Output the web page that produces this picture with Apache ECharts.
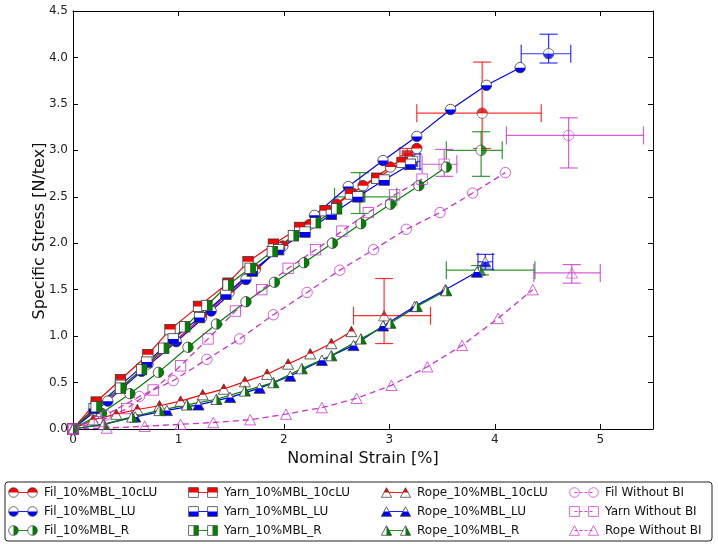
<!DOCTYPE html>
<html><head><meta charset="utf-8">
<script src="https://cdn.jsdelivr.net/npm/echarts@6/dist/echarts.min.js"></script>
<style>html,body{margin:0;padding:0;background:#fff}#c{width:718px;height:544px}</style>
</head><body><div id="c"></div>
<script>
// ---------- data ----------
// errorbar arrays: [x, y, xLow, xHigh, yLow, yHigh]
const filCLU_x = [0, 0.20, 0.46, 0.71, 0.97, 1.22, 1.48, 1.73, 1.99, 2.24, 2.50, 2.75, 3.01, 3.26];
const filCLU_y = [0, 0.20, 0.45, 0.70, 0.95, 1.20, 1.47, 1.72, 1.97, 2.20, 2.42, 2.62, 2.82, 3.02];
const filCLU_err = [3.88, 3.40, 3.26, 4.44, 3.02, 3.95];

const filLU_x = [0, 0.33, 0.65, 0.98, 1.31, 1.64, 1.96, 2.29, 2.61, 2.94, 3.26, 3.58, 3.92, 4.24];
const filLU_y = [0, 0.30, 0.62, 0.94, 1.27, 1.61, 1.95, 2.30, 2.61, 2.89, 3.15, 3.44, 3.70, 3.89];
const filLU_err = [4.51, 4.04, 4.25, 4.72, 3.94, 4.25];

const filR_x = [0, 0.27, 0.54, 0.81, 1.09, 1.36, 1.64, 1.91, 2.19, 2.46, 2.73, 3.01, 3.28, 3.54];
const filR_y = [0, 0.17, 0.38, 0.61, 0.88, 1.13, 1.37, 1.58, 1.79, 2.00, 2.21, 2.42, 2.62, 2.82];
const filR_err = [3.87, 3.00, 3.54, 4.07, 2.72, 3.20];

const yarnCLU_x = [0, 0.22, 0.45, 0.71, 0.92, 1.19, 1.47, 1.66, 1.90, 2.15, 2.39, 2.63, 2.88, 3.12];
const yarnCLU_y = [0, 0.29, 0.53, 0.80, 1.07, 1.32, 1.57, 1.80, 1.99, 2.17, 2.35, 2.53, 2.70, 2.87];
const yarnCLU_err = [3.17, 2.94, 3.10, 3.24, 2.86, 3.02];

const yarnLU_x = [0, 0.20, 0.45, 0.70, 0.95, 1.20, 1.45, 1.70, 1.95, 2.20, 2.45, 2.70, 2.95, 3.20];
const yarnLU_y = [0, 0.22, 0.47, 0.72, 0.97, 1.20, 1.45, 1.70, 1.93, 2.12, 2.31, 2.50, 2.68, 2.85];
const yarnLU_err = [3.22, 2.88, 3.15, 3.29, 2.80, 2.96];

const yarnR_x = [0, 0.22, 0.45, 0.65, 0.86, 1.06, 1.27, 1.47, 1.68, 1.89, 2.09, 2.30, 2.50];
const yarnR_y = [0, 0.24, 0.44, 0.64, 0.87, 1.10, 1.33, 1.55, 1.73, 1.91, 2.08, 2.22, 2.37];
const yarnR_err = [2.72, 2.50, 2.48, 3.07, 2.32, 2.76];

const ropeCLU_x = [0, 0.19, 0.41, 0.61, 0.82, 1.02, 1.23, 1.43, 1.63, 1.84, 2.04, 2.25, 2.45, 2.64];
const ropeCLU_y = [0, 0.10, 0.16, 0.21, 0.25, 0.30, 0.37, 0.43, 0.51, 0.59, 0.70, 0.81, 0.92, 1.05];
const ropeCLU_err = [2.95, 1.22, 2.66, 3.39, 0.92, 1.62];

const ropeLU_x = [0, 0.29, 0.59, 0.89, 1.19, 1.49, 1.77, 2.06, 2.36, 2.66, 2.94, 3.24, 3.53, 3.83];
const ropeLU_y = [0, 0.05, 0.13, 0.20, 0.26, 0.34, 0.44, 0.57, 0.74, 0.90, 1.11, 1.32, 1.50, 1.69];
const ropeLU_err = [3.91, 1.80, 3.84, 3.98, 1.72, 1.88];

const ropeR_x = [0, 0.29, 0.56, 0.82, 1.08, 1.36, 1.63, 1.90, 2.17, 2.45, 2.73, 3.01, 3.26, 3.54];
const ropeR_y = [0, 0.05, 0.13, 0.20, 0.26, 0.32, 0.41, 0.50, 0.65, 0.79, 0.97, 1.14, 1.32, 1.49];
const ropeR_err = [3.86, 1.71, 3.54, 4.38, 1.66, 1.76];

const filNo_x = [0, 0.31, 0.63, 0.95, 1.27, 1.58, 1.90, 2.22, 2.53, 2.85, 3.16, 3.48, 3.79, 4.10];
const filNo_y = [0, 0.15, 0.35, 0.52, 0.75, 0.97, 1.23, 1.47, 1.71, 1.93, 2.15, 2.33, 2.54, 2.76];
const filNo_err = [4.70, 3.16, 4.11, 5.41, 2.81, 3.35];

const yarnNo_x = [0, 0.25, 0.51, 0.76, 1.02, 1.28, 1.54, 1.79, 2.04, 2.30, 2.55, 2.80, 3.05, 3.31];
const yarnNo_y = [0, 0.08, 0.22, 0.42, 0.68, 0.97, 1.27, 1.50, 1.73, 1.93, 2.13, 2.33, 2.52, 2.69];
const yarnNo_err = [3.52, 2.85, 3.31, 3.64, 2.72, 3.01];

const ropeNo_x = [0, 0.32, 0.68, 1.02, 1.33, 1.68, 2.02, 2.36, 2.69, 3.02, 3.36, 3.69, 4.03, 4.36];
const ropeNo_y = [0, 0.01, 0.03, 0.05, 0.07, 0.10, 0.16, 0.23, 0.33, 0.47, 0.67, 0.90, 1.19, 1.50];
const ropeNo_err = [4.73, 1.68, 4.37, 5.00, 1.57, 1.77];

const xTicks = [0, 1, 2, 3, 4, 5];
const yTicks = [0, 0.5, 1, 1.5, 2, 2.5, 3, 3.5, 4, 4.5];

// ---------- styling ----------
const RED = '#ff0000', BLUE = '#0000ff', GREEN = '#008000', MAG = '#cc33cc', EDGE = '#333333';

function shapeEl(shape, attrs) {
  if (shape === 'circle') return `<circle cx='10' cy='10' r='8' ${attrs}/>`;
  if (shape === 'square') return `<rect x='2' y='2' width='16' height='16' ${attrs}/>`;
  return `<polygon points='10,2 18.5,18 1.5,18' ${attrs}/>`;
}
function markerBody(shape, fill, color, id) {
  if (fill === 'none') return shapeEl(shape, `fill='none' stroke='${color}' stroke-width='1.2'`);
  const c = {top: [0, 0, 20, 10], bottom: [0, 10, 20, 10], right: [10, 0, 10, 20]}[fill];
  return `<defs><clipPath id='${id}'><rect x='${c[0]}' y='${c[1]}' width='${c[2]}' height='${c[3]}'/></clipPath></defs>` +
    shapeEl(shape, "fill='white'") +
    shapeEl(shape, `fill='${color}' clip-path='url(#${id})'`) +
    shapeEl(shape, `fill='none' stroke='${EDGE}' stroke-width='1.2'`);
}
function uri(svg) { return 'image://data:image/svg+xml;charset=utf-8,' + encodeURIComponent(svg); }
function markerImg(shape, fill, color) {
  return uri(`<svg xmlns='http://www.w3.org/2000/svg' width='40' height='40' viewBox='0 0 20 20'>${markerBody(shape, fill, color, 'k')}</svg>`);
}
function legendImg(shape, fill, color, dashed) {
  const line = `<line x1='6.5' y1='6.5' x2='25.5' y2='6.5' stroke='${color}' stroke-width='0.9' ${dashed ? "stroke-dasharray='3,2'" : ''}/>`;
  const m1 = `<g transform='translate(0.5,0.5) scale(0.6)'>${markerBody(shape, fill, color, 'a')}</g>`;
  const m2 = `<g transform='translate(19.5,0.5) scale(0.6)'>${markerBody(shape, fill, color, 'b')}</g>`;
  return uri(`<svg xmlns='http://www.w3.org/2000/svg' width='64' height='26' viewBox='0 0 32 13'>${line}${m1}${m2}</svg>`);
}

const defs = [
  {name: 'Fil_10%MBL_10cLU', xs: filCLU_x, ys: filCLU_y, err: filCLU_err, shape: 'circle', fill: 'top', color: RED},
  {name: 'Fil_10%MBL_LU', xs: filLU_x, ys: filLU_y, err: filLU_err, shape: 'circle', fill: 'bottom', color: BLUE},
  {name: 'Fil_10%MBL_R', xs: filR_x, ys: filR_y, err: filR_err, shape: 'circle', fill: 'right', color: GREEN},
  {name: 'Yarn_10%MBL_10cLU', xs: yarnCLU_x, ys: yarnCLU_y, err: yarnCLU_err, shape: 'square', fill: 'top', color: RED},
  {name: 'Yarn_10%MBL_LU', xs: yarnLU_x, ys: yarnLU_y, err: yarnLU_err, shape: 'square', fill: 'bottom', color: BLUE},
  {name: 'Yarn_10%MBL_R', xs: yarnR_x, ys: yarnR_y, err: yarnR_err, shape: 'square', fill: 'right', color: GREEN},
  {name: 'Rope_10%MBL_10cLU', xs: ropeCLU_x, ys: ropeCLU_y, err: ropeCLU_err, shape: 'triangle', fill: 'top', color: RED},
  {name: 'Rope_10%MBL_LU', xs: ropeLU_x, ys: ropeLU_y, err: ropeLU_err, shape: 'triangle', fill: 'bottom', color: BLUE},
  {name: 'Rope_10%MBL_R', xs: ropeR_x, ys: ropeR_y, err: ropeR_err, shape: 'triangle', fill: 'right', color: GREEN},
  {name: 'Fil Without BI', xs: filNo_x, ys: filNo_y, err: filNo_err, shape: 'circle', fill: 'none', color: MAG, dashed: true},
  {name: 'Yarn Without BI', xs: yarnNo_x, ys: yarnNo_y, err: yarnNo_err, shape: 'square', fill: 'none', color: MAG, dashed: true},
  {name: 'Rope Without BI', xs: ropeNo_x, ys: ropeNo_y, err: ropeNo_err, shape: 'triangle', fill: 'none', color: MAG, dashed: true}
];

const SIZE = {circle: 13, square: 13, triangle: 13};
const series = [];
defs.forEach(d => {
  const img = markerImg(d.shape, d.fill, d.color);
  series.push({
    type: 'line', name: d.name, data: d.xs.map((x, i) => [x, d.ys[i]]),
    symbol: img, symbolSize: SIZE[d.shape], showSymbol: true,
    lineStyle: {color: d.color, width: d.dashed ? 1.3 : 1.2, type: d.dashed ? [6, 4] : 'solid'},
    itemStyle: {color: d.color}, emphasis: {disabled: true}
  });
  series.push({
    type: 'custom', name: d.name, data: [d.err],
    renderItem: (params, api) => {
      const x = api.value(0), y = api.value(1);
      const l = api.coord([api.value(2), y]), r = api.coord([api.value(3), y]);
      const b = api.coord([x, api.value(4)]), t = api.coord([x, api.value(5)]);
      const cap = 9;
      const st = {stroke: d.color, lineWidth: 1.2, opacity: 0.8};
      const ln = (x1, y1, x2, y2) => ({type: 'line', shape: {x1, y1, x2, y2}, style: st});
      return {type: 'group', children: [
        ln(l[0], l[1], r[0], r[1]), ln(l[0], l[1] - cap, l[0], l[1] + cap), ln(r[0], r[1] - cap, r[0], r[1] + cap),
        ln(b[0], b[1], t[0], t[1]), ln(t[0] - cap, t[1], t[0] + cap, t[1]), ln(b[0] - cap, b[1], b[0] + cap, b[1])
      ]};
    },
    encode: {x: 0, y: 1}, silent: true
  });
  series.push({
    type: 'scatter', name: d.name, data: [[d.err[0], d.err[1]]],
    symbol: img, symbolSize: SIZE[d.shape], itemStyle: {color: d.color}, silent: true
  });
});

const legendCols = [[0, 1, 2], [3, 4, 5], [6, 7, 8], [9, 10, 11]];
const legendLeft = [7, 187, 380, 568];
const legends = legendCols.map((col, ci) => ({
  orient: 'vertical', left: legendLeft[ci], top: 486, padding: 0,
  itemWidth: 32, itemHeight: 13, itemGap: 6, selectedMode: false,
  textStyle: {fontFamily: 'DejaVu Sans', fontSize: 12, color: '#111', lineHeight: 13},
  data: col.map(i => ({name: defs[i].name, icon: legendImg(defs[i].shape, defs[i].fill, defs[i].color, defs[i].dashed)}))
}));

const axisCommon = {
  axisLine: {show: true, onZero: false, lineStyle: {color: '#000', width: 1}},
  axisTick: {show: true, inside: true, length: 5, lineStyle: {color: '#000'}},
  splitLine: {show: false}
};

const option = {
  animation: false,
  backgroundColor: '#fff',
  grid: {left: 73, right: 65, top: 11, bottom: 115, show: false},
  legend: legends,
  xAxis: [
    Object.assign({type: 'value', min: 0, max: 5.5, interval: 1, position: 'bottom',
      axisLabel: {margin: 5, fontFamily: 'DejaVu Sans', fontSize: 12, color: '#222',
        formatter: v => xTicks.includes(v) ? String(v) : ''}}, axisCommon),
    Object.assign({type: 'value', min: 0, max: 5.5, interval: 1, position: 'top', axisLabel: {show: false}}, axisCommon)
  ],
  yAxis: [
    Object.assign({type: 'value', min: 0, max: 4.5, interval: 0.5, position: 'left',
      axisLabel: {margin: 5, fontFamily: 'DejaVu Sans', fontSize: 12, color: '#222',
        formatter: v => yTicks.includes(v) ? v.toFixed(1) : ''}}, axisCommon),
    Object.assign({type: 'value', min: 0, max: 4.5, interval: 0.5, position: 'right', axisLabel: {show: false}}, axisCommon)
  ],
  graphic: [
    {type: 'rect', shape: {x: 5, y: 482, width: 707, height: 59, r: 3}, style: {fill: 'none', stroke: '#222', lineWidth: 1}, z: -1},
    {type: 'text', x: 40, y: 231, rotation: Math.PI / 2,
      style: {text: 'Specific Stress [N/tex]', fontFamily: 'DejaVu Sans', fontSize: 16, fill: '#111', align: 'center', verticalAlign: 'middle'}},
    {type: 'text', x: 363, y: 459,
      style: {text: 'Nominal Strain [%]', fontFamily: 'DejaVu Sans', fontSize: 16, fill: '#111', align: 'center', verticalAlign: 'middle'}}
  ],
  series: series
};

const chart = echarts.init(document.getElementById('c'), null, {renderer: 'canvas'});
chart.setOption(option);
</script></body></html>
